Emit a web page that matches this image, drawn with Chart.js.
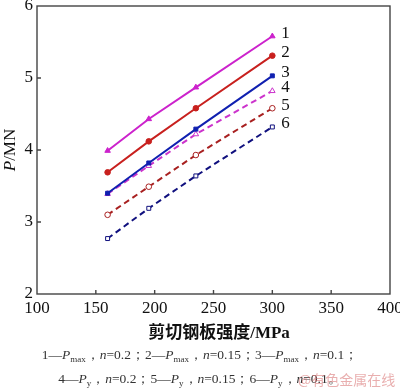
<!DOCTYPE html>
<html><head><meta charset="utf-8">
<script src="https://cdn.jsdelivr.net/npm/chart.js@4"></script>
<style>
body{margin:0;background:#fff}
#wrap{position:relative;width:400px;height:391px}
.cap{position:absolute;left:0;width:400px;text-align:center;font:13.5px "Liberation Serif",serif;color:#333;white-space:nowrap}
.cap sub{font-size:9px;vertical-align:-3px;line-height:0}
.wm{position:absolute;left:298px;top:369px;font:14px "Noto Sans CJK SC",sans-serif;color:rgba(215,110,110,0.55)}
</style></head><body>
<div id="wrap">
<canvas id="myChart" width="400" height="391"></canvas>
<div class="cap" style="top:346px">1—<i>P</i><sub>max</sub>，<i>n</i>=0.2；2—<i>P</i><sub>max</sub>，<i>n</i>=0.15；3—<i>P</i><sub>max</sub>，<i>n</i>=0.1；</div>
<div class="cap" style="top:370px">4—<i>P</i><sub>y</sub>，<i>n</i>=0.2；5—<i>P</i><sub>y</sub>，<i>n</i>=0.15；6—<i>P</i><sub>y</sub>，<i>n</i>=0.1。</div>
<div class="wm">@有色金属在线</div>
</div>
<script>
const ctx = document.getElementById('myChart');

// shear steel plate strength, MPa
const strength = [160, 195, 235, 300];
const pmax02 = [3.99, 4.43, 4.87, 5.58];
const pmax015 = [3.69, 4.12, 4.58, 5.31];
const pmax01 = [3.40, 3.82, 4.29, 5.03];
const py02 = [3.39, 3.78, 4.22, 4.82];
const py015 = [3.10, 3.49, 3.93, 4.58];
const py01 = [2.77, 3.19, 3.64, 4.32];
const curveLabels = ['1', '2', '3', '4', '5', '6'];
const xTicks = [100, 150, 200, 250, 300, 350, 400];
const yTicks = [2, 3, 4, 5, 6];

const serif = '"Liberation Serif", "Times New Roman", serif';

function pts(vals) {
  return vals.map((v, i) => ({ x: strength[i], y: v }));
}

function series(vals, color, marker, dashed) {
  return {
    data: pts(vals),
    borderColor: color,
    backgroundColor: dashed ? '#fff' : color,
    pointBorderColor: color,
    pointStyle: marker,
    pointRadius: marker === 'triangle' ? 3.2 : 2.8,
    pointBorderWidth: 1,
    borderWidth: 2,
    borderDash: dashed ? [6, 4] : [],
    tension: 0
  };
}

const frame = {
  id: 'frame',
  afterDraw(chart) {
    const c = chart.ctx, a = chart.chartArea;
    const xs = chart.scales.x, ys = chart.scales.y;
    c.save();
    c.strokeStyle = '#444';
    c.lineWidth = 1.4;
    c.strokeRect(a.left, a.top, a.right - a.left, a.bottom - a.top);
    c.beginPath();
    xTicks.slice(1, -1).forEach(t => {
      const px = xs.getPixelForValue(t);
      c.moveTo(px, a.bottom); c.lineTo(px, a.bottom - 4);
    });
    yTicks.slice(1, -1).forEach(t => {
      const py = ys.getPixelForValue(t);
      c.moveTo(a.left, py); c.lineTo(a.left + 4, py);
    });
    c.stroke();

    // curve numbers at line ends
    c.fillStyle = '#111';
    c.font = '17px ' + serif;
    c.textBaseline = 'middle';
    c.textAlign = 'left';
    chart.data.datasets.forEach((ds, i) => {
      const meta = chart.getDatasetMeta(i);
      const p = meta.data[meta.data.length - 1];
      c.fillText(curveLabels[i], p.x + 9, p.y - 3);
    });

    // axis titles
    c.textAlign = 'center';
    c.font = 'bold 17px ' + serif + ', "Noto Sans CJK SC"';
    c.fillText('剪切钢板强度/MPa', 219, 334);

    c.translate(11, (a.top + a.bottom) / 2);
    c.rotate(-Math.PI / 2);
    c.font = 'italic 17px ' + serif;
    const w1 = c.measureText('P').width;
    c.font = '17px ' + serif;
    const w2 = c.measureText('/MN').width;
    c.textAlign = 'left';
    c.font = 'italic 17px ' + serif;
    c.fillText('P', -(w1 + w2) / 2, 0);
    c.font = '17px ' + serif;
    c.fillText('/MN', -(w1 + w2) / 2 + w1, 0);
    c.restore();
  }
};

new Chart(ctx, {
  type: 'line',
  data: {
    datasets: [
      series(pmax02, '#cc22cc', 'triangle', false),
      series(pmax015, '#c8201e', 'circle', false),
      series(pmax01, '#1020b0', 'rect', false),
      series(py02, '#cc33cc', 'triangle', true),
      series(py015, '#a82020', 'circle', true),
      series(py01, '#10107e', 'rect', true)
    ]
  },
  options: {
    responsive: false,
    animation: false,
    layout: { padding: { left: 0, right: 10, top: 6, bottom: 0 } },
    plugins: { legend: { display: false }, tooltip: { enabled: false } },
    scales: {
      x: {
        type: 'linear',
        min: 100,
        max: 400,
        afterBuildTicks: s => { s.ticks = xTicks.map(v => ({ value: v })); },
        grid: { display: false, drawTicks: false },
        border: { display: false },
        ticks: { color: '#111', padding: 4, maxRotation: 0, font: { family: serif, size: 17 } },
        afterFit: s => { s.height = 97; s.paddingLeft = 0; s.paddingRight = 0; }
      },
      y: {
        min: 2,
        max: 6,
        afterBuildTicks: s => { s.ticks = yTicks.map(v => ({ value: v })); },
        grid: { display: false, drawTicks: false },
        border: { display: false },
        ticks: { color: '#111', padding: 4, font: { family: serif, size: 17 } },
        afterFit: s => { s.width = 37; s.paddingTop = 0; s.paddingBottom = 0; }
      }
    }
  },
  plugins: [frame]
});
</script>
</body></html>
